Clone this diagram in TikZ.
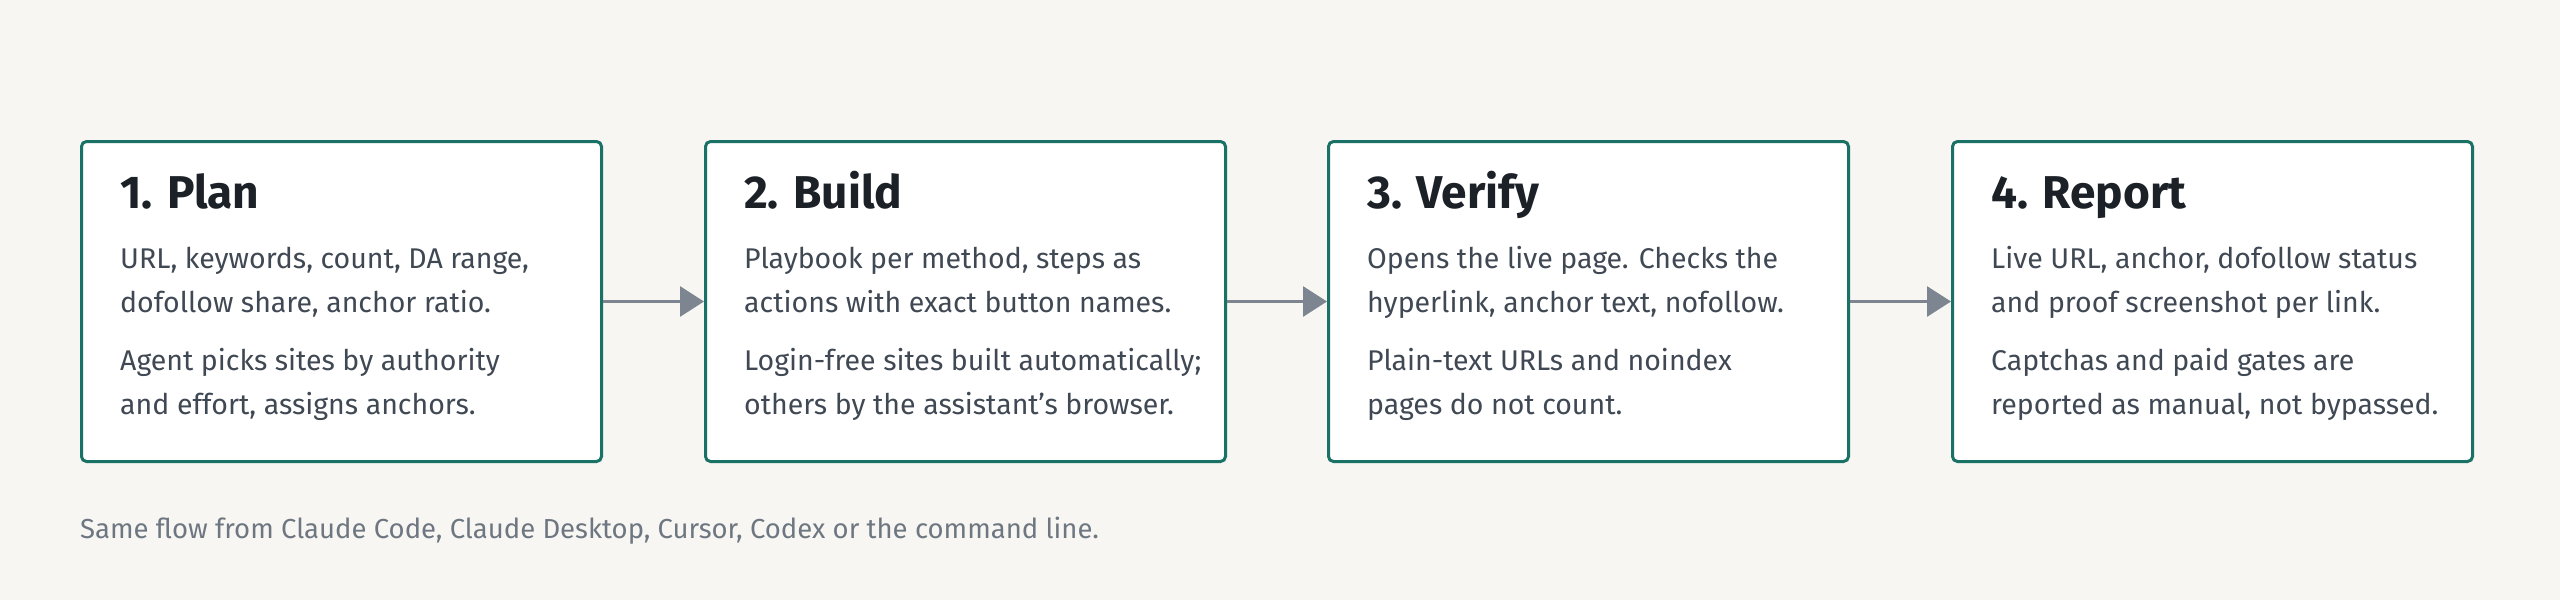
\documentclass[tikz,border=0pt]{standalone}
\usepackage{fontspec}
\setmainfont{Fira Sans}
\usetikzlibrary{arrows.meta}
\definecolor{bg}{HTML}{F7F6F2}
\definecolor{teal}{HTML}{1A7166}
\definecolor{ttl}{HTML}{1C2128}
\definecolor{bodyc}{HTML}{3F4853}
\definecolor{arr}{HTML}{7D8590}
\definecolor{foot}{HTML}{6E7781}
\begin{document}
\begin{tikzpicture}[x=1pt,y=-1pt,
  box/.style={draw=teal,line width=3pt,fill=white,rounded corners=5pt,minimum width=520pt,minimum height=320pt,anchor=north west},
  ttl/.style={anchor=base west,font=\fontsize{46}{46}\selectfont\bfseries,text=ttl,inner sep=0},
  txt/.style={anchor=base west,font=\fontsize{28.5}{44}\selectfont,text=bodyc,inner sep=0},
  con/.style={draw=arr,line width=3pt,-{Triangle[length=24pt,width=30pt]}}]
\fill[bg] (0,0) rectangle (2560,600);
\useasboundingbox (0,0) rectangle (2560,600);
\foreach \i/\x/\t/\a/\aa/\b/\bb in {
 1/80/{1. Plan}/{URL, keywords, count, DA range,}/{dofollow share, anchor ratio.}/{Agent picks sites by authority}/{and effort, assigns anchors.},
 2/704/{2. Build}/{Playbook per method, steps as}/{actions with exact button names.}/{Login-free sites built automatically;}/{others by the assistant's browser.},
 3/1327/{3. Verify}/{Opens the live page. Checks the}/{hyperlink, anchor text, nofollow.}/{Plain-text URLs and noindex}/{pages do not count.},
 4/1951/{4. Report}/{Live URL, anchor, dofollow status}/{and proof screenshot per link.}/{Captchas and paid gates are}/{reported as manual, not bypassed.}}{
 \node[box] (b\i) at (\x,140) {};
 \node[ttl] (t\i) at (\x+40,208) {\t};
 \node[txt] (p\i) at (\x+40,268) {\a};
 \node[txt] (pp\i) at (\x+40,312) {\aa};
 \node[txt] (q\i) at (\x+40,370) {\b};
 \node[txt] (qq\i) at (\x+40,414) {\bb};
}
\draw[con] (b1.east) -- (b2.west);
\draw[con] (b2.east) -- (b3.west);
\draw[con] (b3.east) -- (b4.west);
\node[anchor=base west,inner sep=0,text=foot,font=\fontsize{27.5}{27.5}\selectfont] (f) at (80,538) {Same flow from Claude Code, Claude Desktop, Cursor, Codex or the command line.};
\end{tikzpicture}
\end{document}
